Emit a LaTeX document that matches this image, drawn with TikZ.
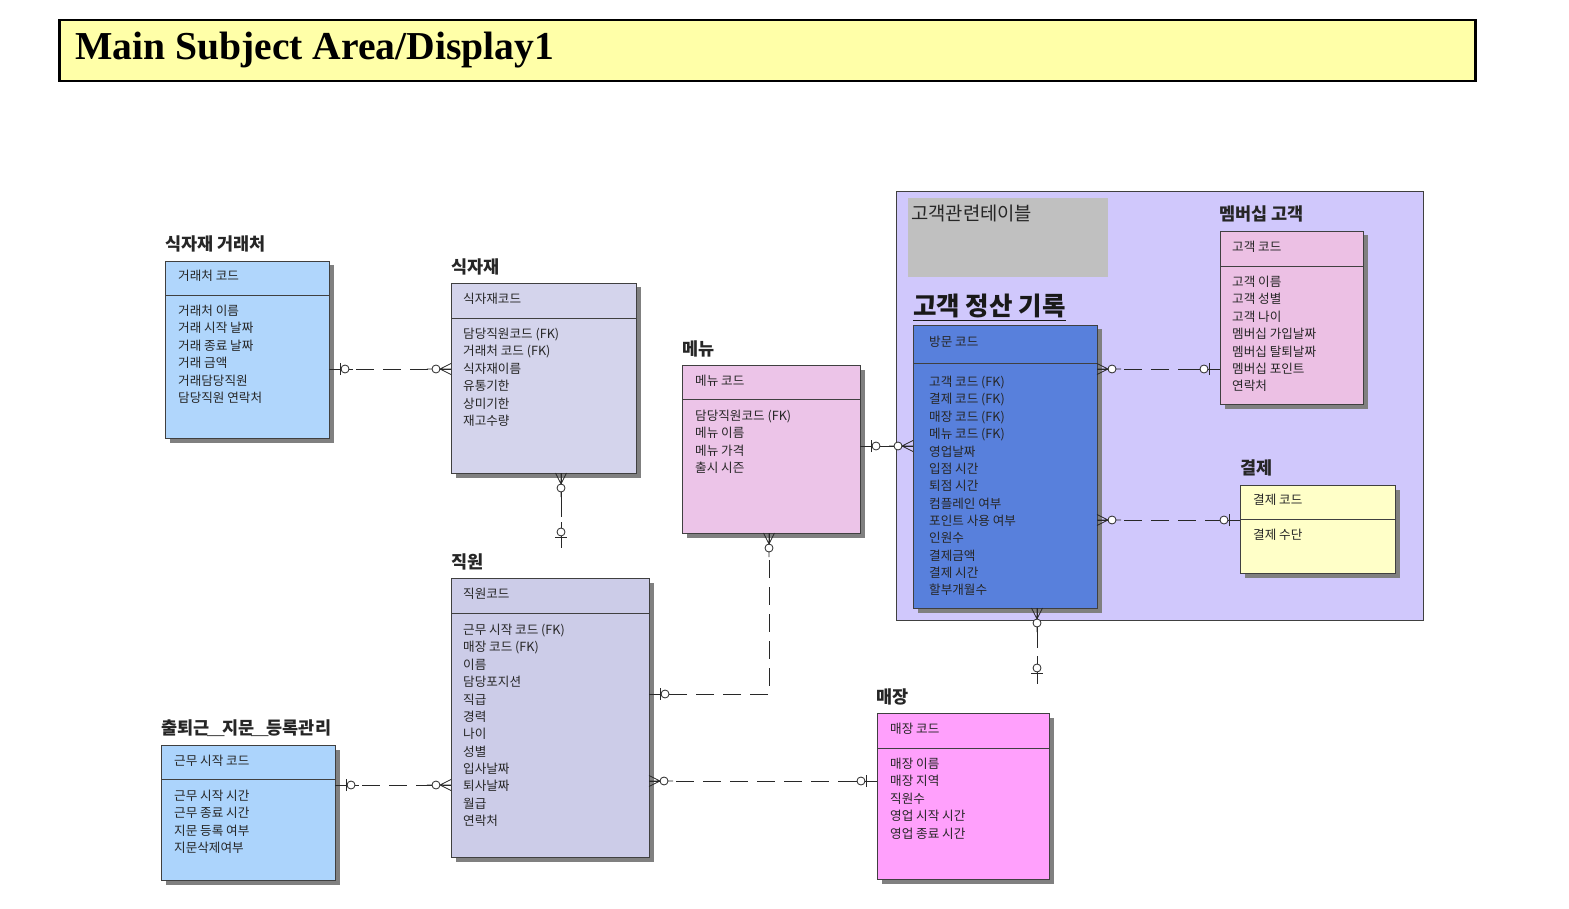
\documentclass[tikz,border=0pt]{standalone}
\usepackage{fontspec}
\setmainfont{Liberation Serif}
\newfontfamily\kr{Noto Sans CJK KR}
\usetikzlibrary{shadows,decorations.markings}
\definecolor{cTitle}{RGB}{255,255,168}
\definecolor{cSup}{RGB}{176,214,252}
\definecolor{cIng}{RGB}{212,212,236}
\definecolor{cMenu}{RGB}{236,196,232}
\definecolor{cGrp}{RGB}{208,200,252}
\definecolor{cGray}{RGB}{192,192,192}
\definecolor{cVisit}{RGB}{88,128,220}
\definecolor{cMem}{RGB}{236,192,228}
\definecolor{cPay}{RGB}{255,255,200}
\definecolor{cEmp}{RGB}{204,204,232}
\definecolor{cAtt}{RGB}{172,212,252}
\definecolor{cStore}{RGB}{255,160,252}
\definecolor{cLine}{RGB}{40,40,40}
\tikzset{
  manyS/.style={postaction={decorate,decoration={markings,mark=at position 0.0001 with {\draw[solid,line width=0.8pt,draw=cLine] (0,5.5)--(11,0)--(0,-5.5) (0,0)--(24,0); \draw[solid,line width=0.8pt,draw=cLine,fill=white] (15,0) circle[radius=4];}}}},
  manyE/.style={postaction={decorate,decoration={markings,mark=at position 0.9999 with {\draw[solid,line width=0.8pt,draw=cLine] (0,5.5)--(-11,0)--(0,-5.5) (0,0)--(-24,0); \draw[solid,line width=0.8pt,draw=cLine,fill=white] (-15,0) circle[radius=4];}}}},
  oneS/.style={postaction={decorate,decoration={markings,mark=at position 0.0001 with {\draw[solid,line width=0.8pt,draw=cLine] (11,6)--(11,-6) (0,0)--(24,0); \draw[solid,line width=0.8pt,draw=cLine,fill=white] (16,0) circle[radius=4];}}}},
  oneE/.style={postaction={decorate,decoration={markings,mark=at position 0.9999 with {\draw[solid,line width=0.8pt,draw=cLine] (-11,6)--(-11,-6) (0,0)--(-24,0); \draw[solid,line width=0.8pt,draw=cLine,fill=white] (-16,0) circle[radius=4];}}}},
}
\newcommand\attrlist[4]{%
  \foreach \itm [count=\i] in {#4} {\node[attr] (#1-\i) at (#2, {#3+(\i-1)*17.35}) {\itm};}}
\newcommand\ul{\kern-2.5pt＿\kern-2.5pt}
\begin{document}
\begin{tikzpicture}[x=1pt,y=-1pt,
  entity/.style={draw=black!75, line width=0.9pt, anchor=north west, inner sep=0pt, outer sep=0pt,
    drop shadow={shadow xshift=4.5pt,shadow yshift=-4.5pt,opacity=1,fill=black!50}},
  attr/.style={anchor=base west, inner sep=0pt, font=\kr\fontsize{12.6}{14}\selectfont, text=black!85},
  etitle/.style={anchor=base west, inner sep=0pt, font=\kr\bfseries\fontsize{17.5}{20}\selectfont, text=black!85},
  sepline/.style={draw=black!75, line width=0.9pt},
  rel/.style={draw=cLine, line width=0.8pt, dash pattern=on 18pt off 9pt},
  relsolid/.style={draw=cLine, line width=0.8pt},
]
\useasboundingbox (0,0) rectangle (1569,909);
\fill[white] (0,0) rectangle (1569,909);

% title
\node[draw=black, line width=2.5pt, fill=cTitle, anchor=north west, minimum width=1416pt, minimum height=61pt, inner sep=0pt] (ttl) at (58,19) {};
\node[anchor=base west, inner sep=0pt, font=\bfseries\fontsize{39.6}{44}\selectfont] (ttltext) at (75,60) {Main Subject Area/Display1};

% group
\node[draw=black!75, line width=0.9pt, fill=cGrp, anchor=north west, minimum width=527pt, minimum height=429pt, inner sep=0pt] (grp) at (896,191) {};
\node[fill=cGray, anchor=north west, minimum width=200pt, minimum height=79pt, inner sep=0pt] (gbox) at (908,198) {};
\node[anchor=base west, inner sep=0pt, font=\kr\fontsize{18.8}{22}\selectfont, text=black!85] (gtext) at (911,220.9) {고객관련테이블};

% entities
\node[entity, fill=cSup, minimum width=164pt, minimum height=177pt] (sup) at (165,261) {};
\node[entity, fill=cIng, minimum width=185pt, minimum height=190pt] (ing) at (451,283) {};
\node[entity, fill=cMenu, minimum width=178pt, minimum height=168pt] (menu) at (682,365) {};
\node[entity, fill=cMem, minimum width=143pt, minimum height=173pt] (mem) at (1220,231) {};
\node[entity, fill=cVisit, minimum width=184pt, minimum height=283pt] (visit) at (913,325) {};
\node[entity, fill=cPay, minimum width=155pt, minimum height=88pt] (pay) at (1240,485) {};
\node[entity, fill=cEmp, minimum width=198pt, minimum height=279pt] (emp) at (451,578) {};
\node[entity, fill=cAtt, minimum width=174pt, minimum height=135pt] (att) at (161,745) {};
\node[entity, fill=cStore, minimum width=172pt, minimum height=166pt] (store) at (877,713) {};

% separators
\draw[sepline] (sup.west |- 0,295) -- (sup.east |- 0,295);
\draw[sepline] (ing.west |- 0,318) -- (ing.east |- 0,318);
\draw[sepline] (menu.west |- 0,399) -- (menu.east |- 0,399);
\draw[sepline] (mem.west |- 0,266) -- (mem.east |- 0,266);
\draw[sepline] (visit.west |- 0,363) -- (visit.east |- 0,363);
\draw[sepline] (pay.west |- 0,519) -- (pay.east |- 0,519);
\draw[sepline] (emp.west |- 0,613) -- (emp.east |- 0,613);
\draw[sepline] (att.west |- 0,779) -- (att.east |- 0,779);
\draw[sepline] (store.west |- 0,748) -- (store.east |- 0,748);

% titles
\node[etitle] (supT) at (165,250.4) {식자재 거래처};
\node[etitle] (ingT) at (451,273.4) {식자재};
\node[etitle] (menuT) at (682,355.4) {메뉴};
\node[etitle] (memT) at (1219,220.4) {멤버십 고객};
\node[anchor=base west, inner sep=0pt, font=\kr\bfseries\fontsize{25.5}{29}\selectfont, text=black!90] (visitT) at (913,315.3) {고객 정산 기록};
\draw[line width=1.5pt, black!90] ([yshift=-5pt]visitT.base west) -- ([yshift=-5pt]visitT.base east);
\node[etitle] (payT) at (1240,474.4) {결제};
\node[etitle] (empT) at (451,568.4) {직원};
\node[etitle] (attT) at (161,734.4) {출퇴근\ul 지문\ul 등록관리};
\node[etitle] (storeT) at (876,703.4) {매장};

% keys
\node[attr] (supK) at (178,280.6) {거래처 코드};
\node[attr] (ingK) at (463,303.6) {식자재코드};
\node[attr] (menuK) at (695,385.6) {메뉴 코드};
\node[attr] (memK) at (1232,251.6) {고객 코드};
\node[attr] (visitK) at (929,346.6) {방문 코드};
\node[attr] (payK) at (1253,504.6) {결제 코드};
\node[attr] (empK) at (463,598.6) {직원코드};
\node[attr] (attK) at (174,765.6) {근무 시작 코드};
\node[attr] (storeK) at (890,733.6) {매장 코드};

% attributes
\attrlist{supA}{178}{315.6}{거래처 이름,거래 시작 날짜,거래 종료 날짜,거래 금액,거래담당직원,담당직원 연락처}
\attrlist{ingA}{463}{338.6}{담당직원코드 (FK),거래처 코드 (FK),식자재이름,유통기한,상미기한,재고수량}
\attrlist{menuA}{695}{420.6}{담당직원코드 (FK),메뉴 이름,메뉴 가격,출시 시즌}
\attrlist{memA}{1232}{286.6}{고객 이름,고객 성별,고객 나이,멤버십 가입날짜,멤버십 탈퇴날짜,멤버십 포인트,연락처}
\attrlist{visitA}{929}{386.6}{고객 코드 (FK),결제 코드 (FK),매장 코드 (FK),메뉴 코드 (FK),영업날짜,입점 시간,퇴점 시간,컴플레인 여부,포인트 사용 여부,인원수,결제금액,결제 시간,할부개월수}
\attrlist{payA}{1253}{539.6}{결제 수단}
\attrlist{empA}{463}{634.6}{근무 시작 코드 (FK),매장 코드 (FK),이름,담당포지션,직급,경력,나이,성별,입사날짜,퇴사날짜,월급,연락처}
\attrlist{attA}{174}{800.6}{근무 시작 시간,근무 종료 시간,지문 등록 여부,지문삭제여부}
\attrlist{storeA}{890}{768.6}{매장 이름,매장 지역,직원수,영업 시작 시간,영업 종료 시간}

% free ends
\coordinate (bEnd) at (561,548);
\coordinate (fEnd) at (1037,684);

% connectors
\draw[rel, oneS, manyE] (sup.east |- 0,369) -- (ing.west |- 0,369);
\draw[relsolid, dash pattern=on 44pt off 5pt on 200pt, manyS, oneE] (ing.south -| 561,0) -- (bEnd);
\draw[relsolid, oneS, manyE] (menu.east |- 0,446) -- (visit.west |- 0,446);
\draw[rel, manyS, oneE] (visit.east |- 0,369) -- (mem.west |- 0,369);
\draw[rel, manyS, oneE] (visit.east |- 0,520) -- (pay.west |- 0,520);
\draw[relsolid, dash pattern=on 40pt off 8pt on 200pt, manyS, oneE] (visit.south -| 1037,0) -- (fEnd);
\draw[rel, manyS, oneE] (menu.south -| 769,0) |- (emp.east |- 0,694);
\draw[rel, manyS, oneE] (emp.east |- 0,781) -- (store.west |- 0,781);
\draw[rel, oneS, manyE] (att.east |- 0,785) -- (emp.west |- 0,785);
\end{tikzpicture}
\end{document}
